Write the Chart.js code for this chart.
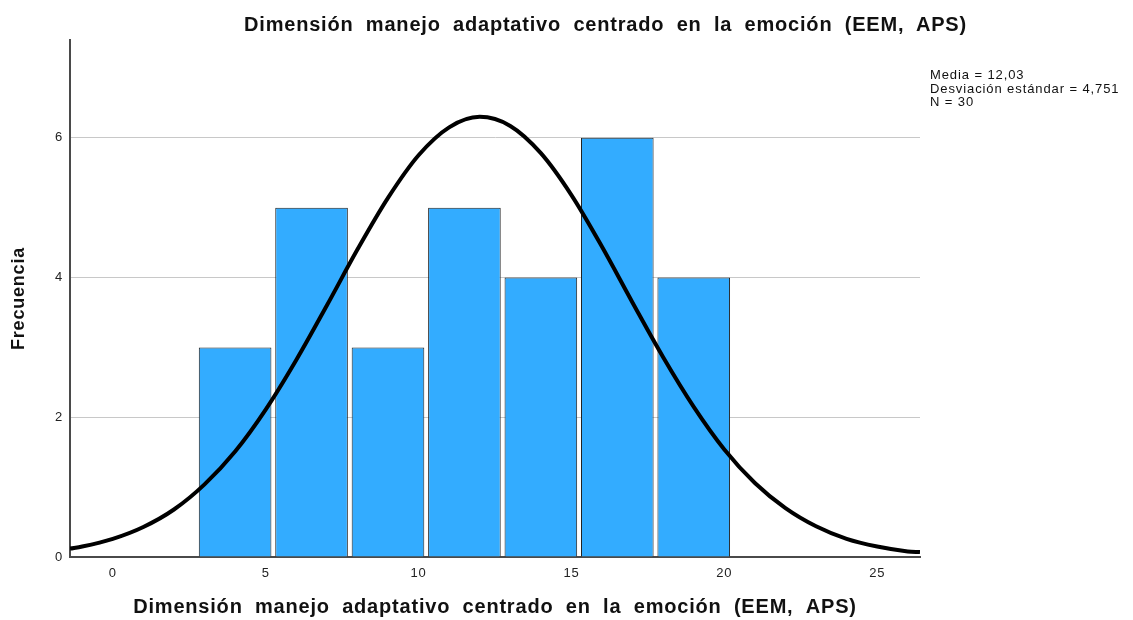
<!DOCTYPE html>
<html>
<head>
<meta charset="utf-8">
<script src="https://cdn.jsdelivr.net/npm/chart.js@4.4.1/dist/chart.umd.min.js"></script>
<style>
  html, body { margin: 0; padding: 0; background: #fff; overflow: hidden; }
  #wrap { position: relative; width: 1133px; height: 620px; }
  #title {
    position: absolute; left: 0; top: 13px; width: 1211px; text-align: center;
    font: bold 20px "Liberation Sans", Arial, sans-serif; color: #111;
    letter-spacing: 0.8px; word-spacing: 6px;
  }
  #stats {
    position: absolute; left: 930px; top: 68px;
    font: 13px "Liberation Sans", Arial, sans-serif; line-height: 13.5px; color: #111;
    letter-spacing: 0.9px;
  }
</style>
</head>
<body>
<div id="wrap">
  <canvas id="c" width="1133" height="620"></canvas>
  <div id="title">Dimensión manejo adaptativo centrado en la emoción (EEM, APS)</div>
  <div id="stats">Media = 12,03<br>Desviación estándar = 4,751<br>N = 30</div>
</div>
<script>
const axisTitle = "Dimensión manejo adaptativo centrado en la emoción (EEM, APS)";

// histogram bins (centres) and counts
const binCenters = [4, 6.5, 9, 11.5, 14, 16.5, 19];
const frequencies = [3, 5, 3, 5, 4, 6, 4];

// normal curve
const curveX = [-1.4, -1, 0, 1, 2, 3, 4, 5, 6, 7, 8, 9, 10, 11, 12, 13, 14, 15, 16, 17, 18, 19, 20, 21, 22, 23, 24, 25, 26, 26.4];
const curveY = [0.12, 0.15, 0.26, 0.43, 0.68, 1.04, 1.51, 2.11, 2.82, 3.6, 4.4, 5.14, 5.75, 6.15, 6.3, 6.17, 5.78, 5.18, 4.44, 3.64, 2.86, 2.15, 1.54, 1.06, 0.7, 0.44, 0.26, 0.15, 0.08, 0.07];

const xTicks = [0, 5, 10, 15, 20, 25];
const yTicks = [0, 2, 4, 6];

const family = "'Liberation Sans', Arial, sans-serif";
const tickFont = { family: family, size: 13 };

// SPSS output is set a little looser than the browser default
const textSpacing = {
  id: "textSpacing",
  beforeUpdate(chart) { setSpacing(chart.ctx); },
  beforeDraw(chart) { setSpacing(chart.ctx); }
};
function setSpacing(ctx) {
  ctx.letterSpacing = "0.8px";
  ctx.wordSpacing = "6px";
}

new Chart(document.getElementById("c"), {
  type: "bar",
  plugins: [textSpacing],
  data: {
    datasets: [
      {
        type: "line",
        data: curveX.map((x, i) => ({ x: x, y: curveY[i] })),
        borderColor: "#000",
        borderWidth: 4,
        pointRadius: 0,
        cubicInterpolationMode: "monotone",
        order: 0
      },
      {
        type: "bar",
        data: binCenters.map((x, i) => ({ x: x, y: frequencies[i] })),
        backgroundColor: "#33acff",
        borderColor: "#222",
        borderWidth: 1,
        categoryPercentage: 1,
        barPercentage: 0.95,
        order: 1
      }
    ]
  },
  options: {
    responsive: false,
    animation: false,
    devicePixelRatio: 1,
    layout: { padding: { top: 40, right: 213, left: 0, bottom: 0 } },
    plugins: { legend: { display: false }, tooltip: { enabled: false } },
    scales: {
      x: {
        type: "linear",
        min: -1.4,
        max: 26.4,
        offset: false,
        afterFit: (s) => { s.height = 63; },
        afterBuildTicks: (s) => { s.ticks = xTicks.map((v) => ({ value: v })); },
        grid: { display: false, drawTicks: false },
        border: { color: "#4a4a4a", width: 2 },
        ticks: { font: tickFont, color: "#222", padding: 9 },
        title: { display: true, text: axisTitle, font: { family: family, size: 20, weight: "bold" }, color: "#111", padding: { top: 0, bottom: 1 } }
      },
      y: {
        min: 0,
        max: 7.4,
        afterFit: (s) => { s.width = 70; },
        afterBuildTicks: (s) => { s.ticks = yTicks.map((v) => ({ value: v })); },
        grid: { color: "#c8c8c8", lineWidth: 1, drawTicks: false },
        border: { color: "#4a4a4a", width: 2 },
        ticks: { font: tickFont, color: "#222", padding: 7 },
        title: { display: true, text: "Frecuencia", font: { family: family, size: 18, weight: "bold" }, color: "#111", padding: { top: 8, bottom: 0 } }
      }
    }
  }
});
</script>
</body>
</html>
